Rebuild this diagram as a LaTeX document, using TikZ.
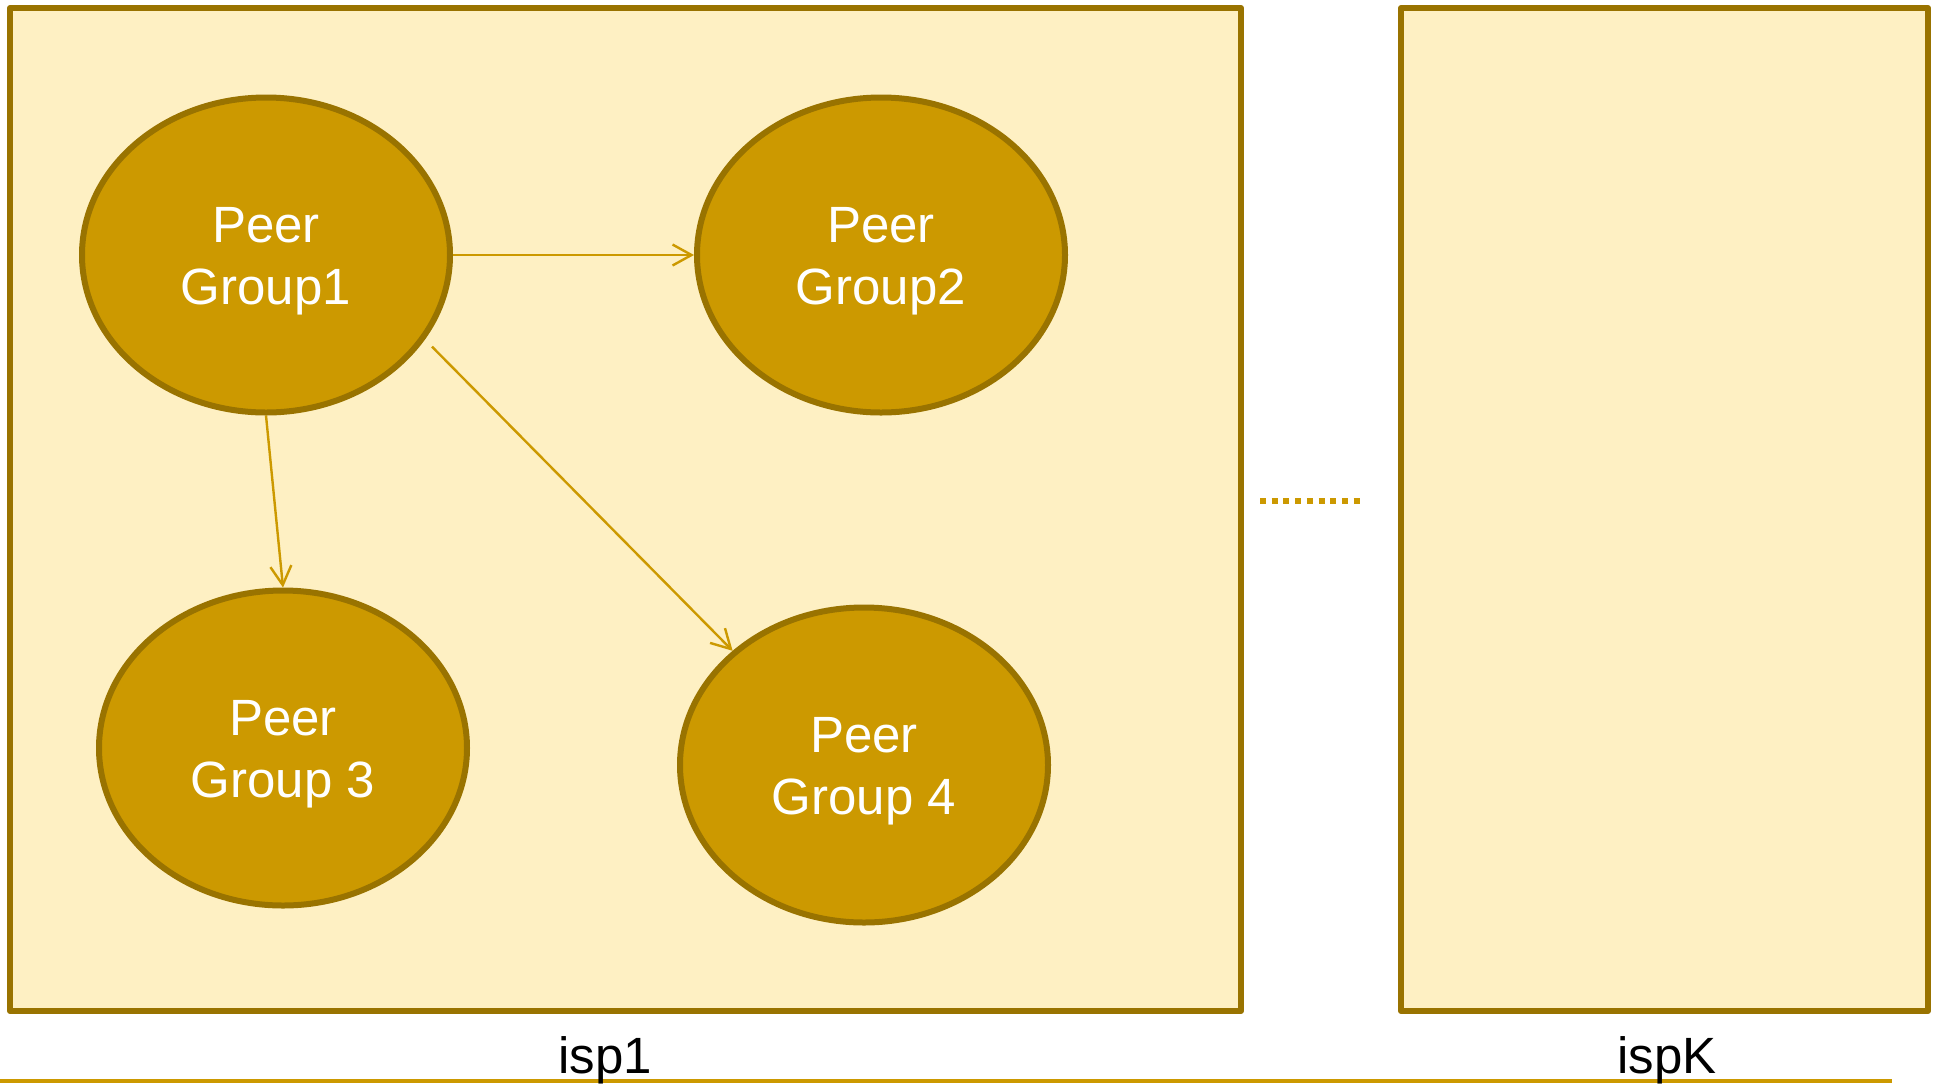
\documentclass[tikz,border=0pt]{standalone}
\usepackage{fontspec}
\setmainfont{Liberation Sans}
\usetikzlibrary{arrows.meta,shapes.geometric}
\definecolor{ispfill}{HTML}{FEF0C3}
\definecolor{ispedge}{HTML}{997300}
\definecolor{gold}{HTML}{CC9900}
\begin{document}
\begin{tikzpicture}[x=0.5pt,y=-0.5pt,
  ispbox/.style={draw=ispedge, fill=ispfill, line width=3pt, line join=round},
  pg/.style={ellipse, draw=ispedge, fill=gold, line width=3pt,
    minimum width=184pt, minimum height=157.5pt, inner sep=0pt},
  lbl/.style={text=white, align=center, inner sep=0pt,
    font=\fontsize{25.5pt}{31pt}\selectfont},
  link/.style={draw=gold, line width=1.2pt,
    -{Straight Barb[length=9.5pt,width=10.5pt]}},
  ispname/.style={font=\fontsize{25.5pt}{31pt}\selectfont, anchor=base, inner sep=0pt}]
\useasboundingbox (0,0) rectangle (1938,1083);

% the two ISP regions
\draw[ispbox] (10,8) rectangle (1241,1011);
\draw[ispbox] (1401,8) rectangle (1928,1011);

% ellipsis between the regions
\draw[gold, line width=3pt, dash pattern=on 3pt off 2.85pt] (1260,501) -- (1362,501);

% base line and region names
\draw[gold, line width=2pt] (0,1081) -- (1892,1081);
\node[ispname] (n1) at (605,1073) {isp1};
\node[ispname] (nk) at (1667,1073) {ispK};

% peer groups
\node[pg] (pg1) at (266,255) {};
\node[pg] (pg2) at (881,255) {};
\node[pg] (pg3) at (283,748) {};
\node[pg] (pg4) at (864,765) {};
\node[lbl] (t1) at ([yshift=-3pt]pg1.center) {Peer\\Group1};
\node[lbl] (t2) at ([yshift=-3pt]pg2.center) {Peer\\Group2};
\node[lbl] (t3) at ([yshift=-3pt]pg3.center) {Peer\\Group 3};
\node[lbl] (t4) at ([yshift=-3pt]pg4.center) {Peer\\Group 4};

% links
\draw[link] (pg1.east) -- (pg2.west);
\draw[link] (pg1.south) -- (pg3.north);
\draw[link, shorten <=5pt] (pg1.-28) -- (pg4.139);
\end{tikzpicture}
\end{document}
